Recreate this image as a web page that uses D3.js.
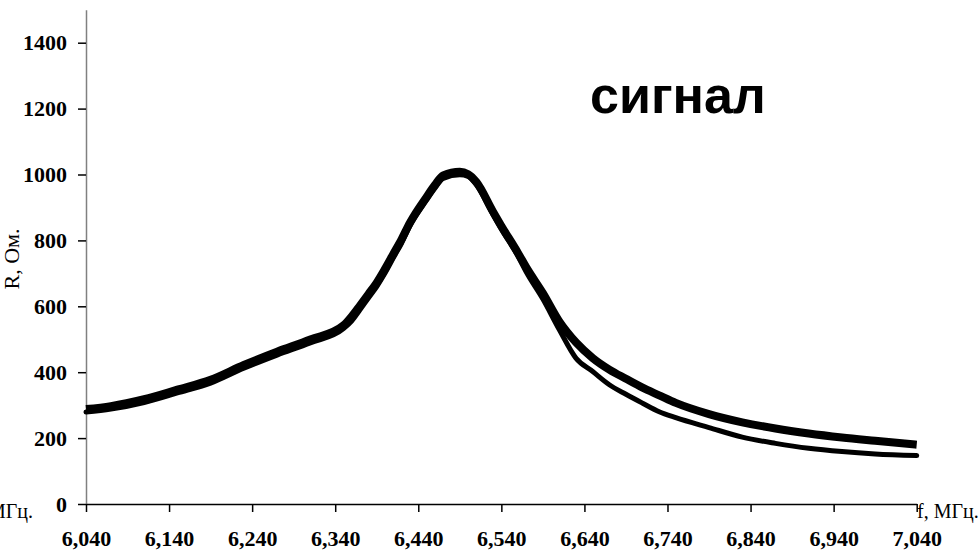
<!DOCTYPE html>
<html>
<head>
<meta charset="utf-8">
<script src="https://cdn.jsdelivr.net/npm/d3@7"></script>
<style>
  body { margin: 0; background: #fff; }
  svg { display: block; }
</style>
</head>
<body>
<svg></svg>
<script>
// frequency, MHz
var freq = [6.04, 6.07, 6.11, 6.15, 6.19, 6.23, 6.27, 6.31, 6.35, 6.36,
            6.37, 6.38, 6.39, 6.40, 6.41, 6.42, 6.43, 6.45, 6.46, 6.47,
            6.49, 6.50, 6.51, 6.53, 6.54, 6.56, 6.57, 6.59, 6.61, 6.63,
            6.65, 6.67, 6.69, 6.71, 6.73, 6.75, 6.79, 6.83, 6.87, 6.91,
            6.95, 6.99, 7.04];
// R, Ohm - upper (thick) trace
var rUpper = [288, 297, 318, 347, 377, 422, 462, 499, 542, 570,
              603, 637, 672, 714, 759, 804, 854, 932, 968, 997,
              1008, 1001, 977, 887, 844, 762, 718, 640, 553, 490,
              443, 408, 380, 353, 330, 307, 273, 248, 229, 214,
              202, 192, 180];
// R, Ohm - lower (thin) trace
var rLower = [279, 288, 308, 337, 367, 412, 452, 489, 532, 556,
              590, 625, 660, 701, 747, 792, 844, 922, 958, 988,
              999, 994, 968, 878, 834, 752, 704, 622, 528, 442,
              402, 362, 333, 306, 280, 262, 232, 203, 184, 169,
              159, 152, 147];
var xTicks = [6.04, 6.14, 6.24, 6.34, 6.44, 6.54, 6.64, 6.74, 6.84, 6.94, 7.04];
var xTickLabels = ["6,040", "6,140", "6,240", "6,340", "6,440", "6,540", "6,640", "6,740", "6,840", "6,940", "7,040"];
var yTicks = [0, 200, 400, 600, 800, 1000, 1200, 1400];

var width = 980, height = 556;
var pad = { left: 86, right: 63.3, top: 9.75, bottom: 52 };
var serif = "'Liberation Serif', 'Times New Roman', serif";

var svg = d3.select("svg")
  .attr("width", width)
  .attr("height", height);

var xscale = d3.scaleLinear()
  .domain([6.04, 7.04])
  .range([pad.left, width - pad.right]);

var yscale = d3.scaleLinear()
  .domain([0, 1500])
  .range([height - pad.bottom, pad.top]);

var xaxis = d3.axisBottom(xscale)
  .tickValues(xTicks)
  .tickSize(8)
  .tickSizeOuter(0)
  .tickPadding(18)
  .tickFormat(function(d, i){ return xTickLabels[i]; });

var yaxis = d3.axisLeft(yscale)
  .tickValues(yTicks)
  .tickSize(8)
  .tickSizeOuter(0)
  .tickPadding(11)
  .tickFormat(d3.format("d"));

//Y axis
var gy = svg.append("g")
  .attr("transform", "translate(" + pad.left + ",0)")
  .call(yaxis);
gy.select(".domain").attr("stroke", "#808080").attr("stroke-width", 1.5);
gy.selectAll(".tick line").attr("stroke", "#000").attr("stroke-width", 1.5);

//X axis
var gx = svg.append("g")
  .attr("transform", "translate(0," + yscale(0) + ")")
  .call(xaxis);
gx.select(".domain").attr("stroke", "#000").attr("stroke-width", 1.5);
gx.selectAll(".tick line").attr("stroke", "#000").attr("stroke-width", 1.5);

svg.selectAll(".tick text")
  .style("font-family", serif)
  .style("font-weight", "bold")
  .style("font-size", "22px")
  .style("fill", "#000");

//Curves
var line = function(vals){
  return d3.line()
    .curve(d3.curveMonotoneX)
    .x(function(d, i){ return xscale(freq[i]); })
    .y(function(d){ return yscale(d); })(vals);
};

svg.append("path")
  .attr("d", line(rLower))
  .attr("fill", "none")
  .attr("stroke", "#000")
  .attr("stroke-width", 5)
  .attr("stroke-linecap", "round")
  .attr("stroke-linejoin", "round");

svg.append("path")
  .attr("d", line(rUpper))
  .attr("fill", "none")
  .attr("stroke", "#000")
  .attr("stroke-width", 8)
  .attr("stroke-linecap", "butt")
  .attr("stroke-linejoin", "round");

//Labels
function label(x, y, rot, anchor, size, txt){
  svg.append("text")
    .attr("transform", "translate(" + x + "," + y + ")" + (rot ? " rotate(" + rot + ")" : ""))
    .attr("text-anchor", anchor)
    .style("font-family", serif)
    .style("font-size", size + "px")
    .style("fill", "#000")
    .text(txt);
}
label(19, 259, -90, "middle", 22, "R, Ом.");
label(33, 518, 0, "end", 20, "f, МГц.");
label(917, 518, 0, "start", 20, "f, МГц.");

svg.append("text")
  .attr("x", 590)
  .attr("y", 113)
  .style("font-family", "'Liberation Sans', Arial, sans-serif")
  .style("font-weight", "bold")
  .style("font-size", "52px")
  .style("fill", "#000")
  .text("сигнал");
</script>
</body>
</html>
